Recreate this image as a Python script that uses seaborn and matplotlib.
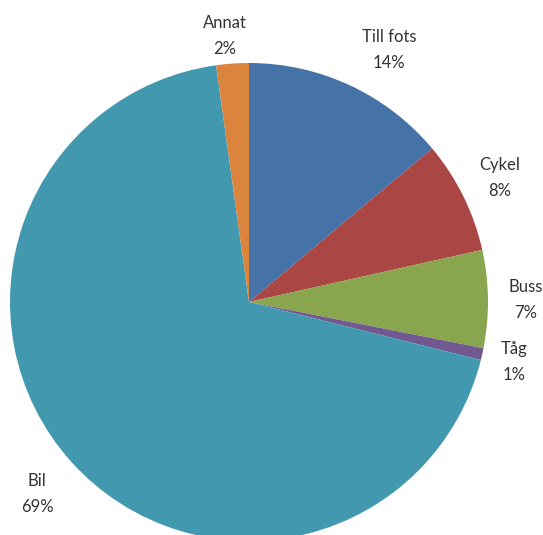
import matplotlib
matplotlib.use("Agg")
import matplotlib.pyplot as plt
import seaborn as sns

# Travel mode shares (percent), clockwise from twelve o'clock
categories = ["Till fots", "Cykel", "Buss", "Tåg", "Bil", "Annat"]
shares = [13.9, 7.6, 6.6, 0.8, 68.9, 2.2]
colors = ["#4572A7", "#AA4643", "#89A54E", "#71588F", "#4198AF", "#DB843D"]

# Label anchor positions in figure pixels (x, y from top)
label_pos = [(389, 50), (500, 178), (526, 300), (514, 362), (37, 494), (225, 36)]

sns.set_theme(style="white")
plt.rcParams["font.family"] = ["Lato", "DejaVu Sans"]

W, H, DPI = 543, 535, 100
fig = plt.figure(figsize=(W / DPI, H / DPI), dpi=DPI)
ax = fig.add_axes([0, 0, 1, 1])

cx, cy, r = 249, 302, 239  # pie centre and radius in pixels
ax.pie(shares, colors=sns.color_palette(colors), startangle=90, counterclock=False,
       radius=1.0, wedgeprops=dict(linewidth=0))
ax.set_aspect("auto")
ax.set_xlim(-cx / r, (W - cx) / r)
ax.set_ylim(-(H - cy) / r, cy / r)
ax.axis("off")

for name, val, (px, py) in zip(categories, shares, label_pos):
    fig.text(px / W, 1 - py / H, f"{name}\n{val:.0f}%", ha="center", va="center",
             fontsize=12, color="#333333", linespacing=1.7)

fig.savefig("out.png", dpi=DPI, facecolor="white")
